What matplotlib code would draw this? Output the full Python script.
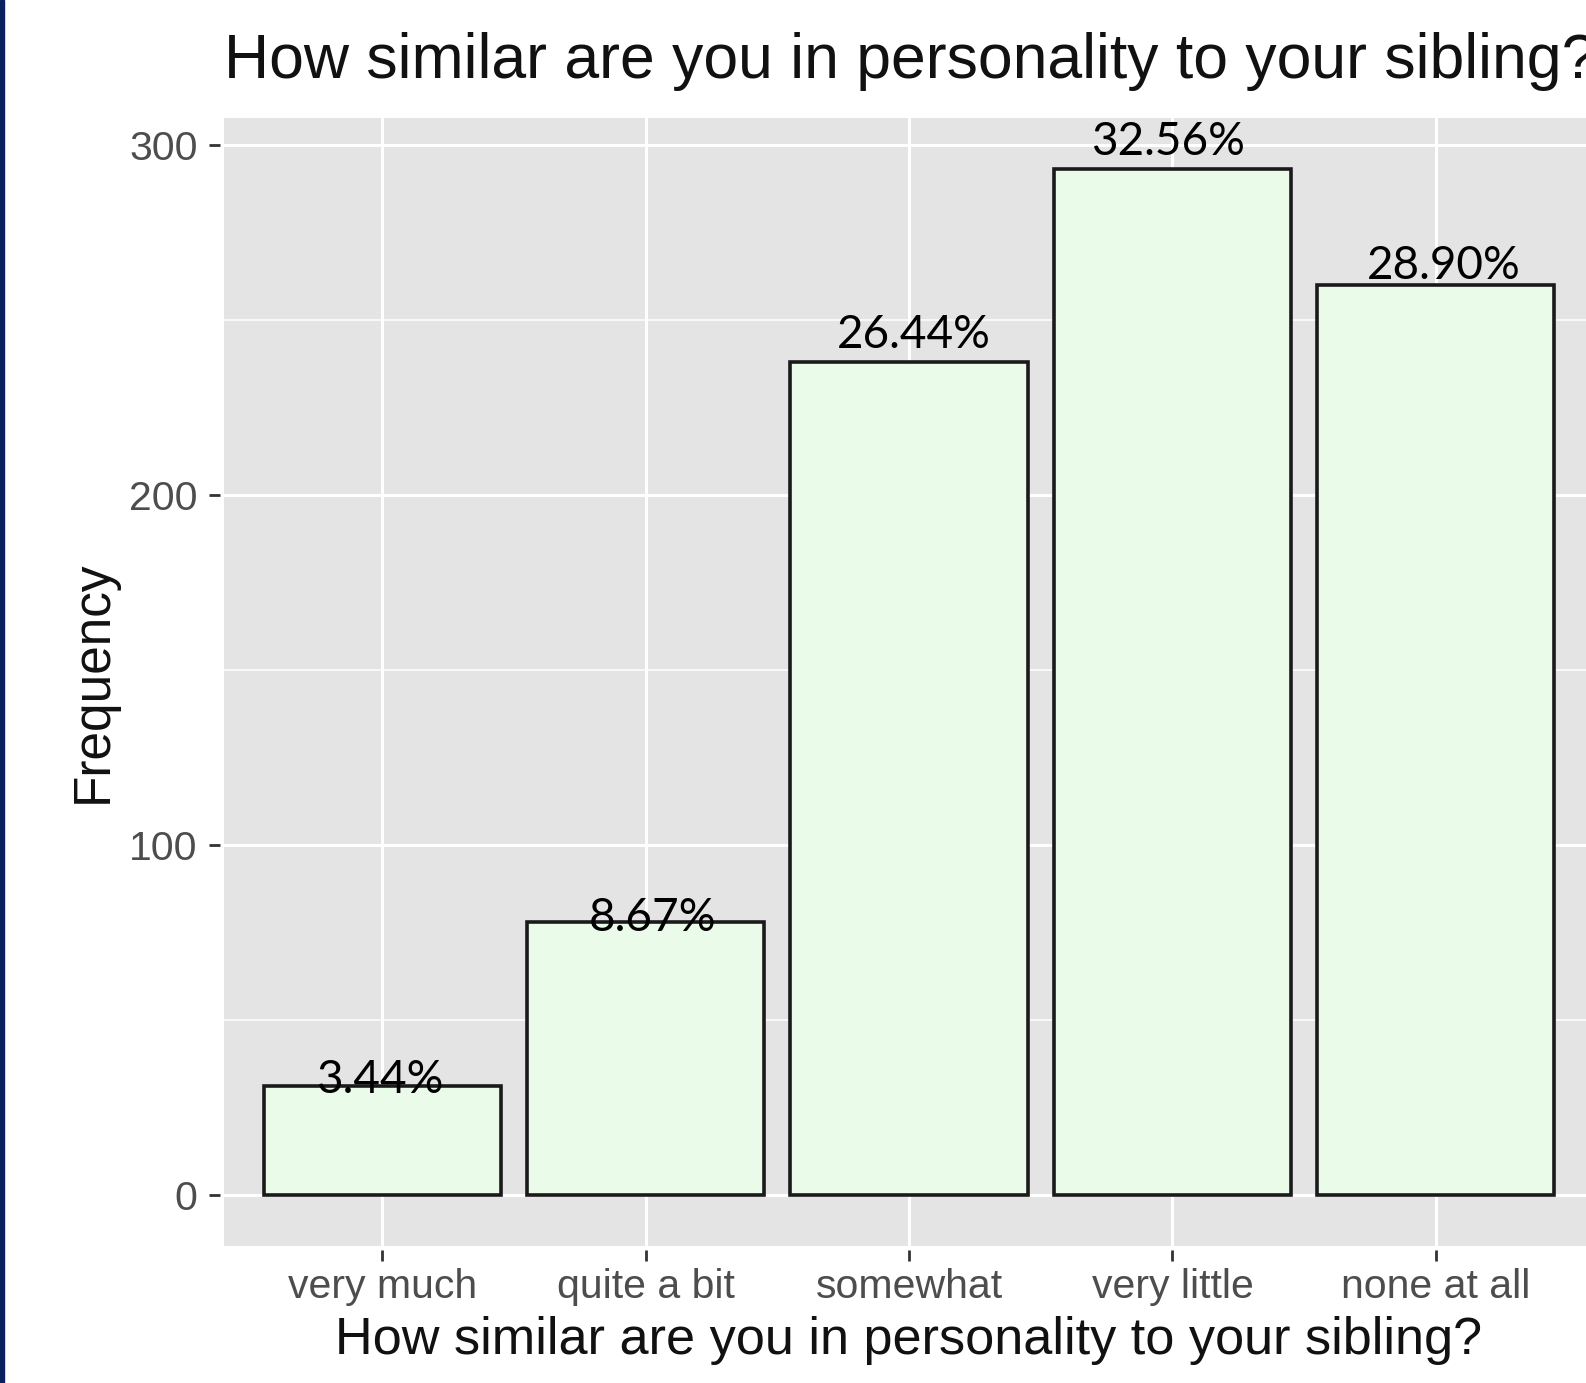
import matplotlib
matplotlib.use("Agg")
import matplotlib.pyplot as plt
from matplotlib.patches import Rectangle

# survey answers and counts
categories = ["very much", "quite a bit", "somewhat", "very little", "none at all"]
counts = [31, 78, 238, 293, 260]
pct_labels = ["3.44%", "8.67%", "26.44%", "32.56%", "28.90%"]
y_ticks = [0, 100, 200, 300]
y_minor = [50, 150, 250]

# hand placed label nudges (points) - the labels in the source were pasted on by hand
label_dx = [-2, 5, 3.6, -3, 5.8]
label_dy = [-5, -6.5, 10, 10, 4.3]

question = "How similar are you in personality to your sibling?"

plt.rcParams['font.family'] = ['Liberation Sans', 'DejaVu Sans']

fig = plt.figure(figsize=(15.86, 13.83), dpi=100)
ax = fig.add_axes([224 / 1586, 0.0991, 1370 / 1586, 0.8156])

# navy strip on the left edge of the slide
fig.patches.append(Rectangle((0, 0), 4 / 1586, 1, transform=fig.transFigure,
                             color="#0a2160", zorder=10))

ax.set_facecolor("#e4e4e4")
for s in ax.spines.values():
    s.set_visible(False)

pos = list(range(1, len(categories) + 1))
bars = ax.bar(pos, counts, width=0.9, color="#eafbea", edgecolor="#1a1a1a",
              linewidth=2.6, zorder=3)

for i, b in enumerate(bars):
    ax.annotate(pct_labels[i], (b.get_x() + b.get_width() / 2, b.get_height()),
                xytext=(label_dx[i], label_dy[i]), textcoords="offset points",
                ha="center", va="baseline", fontsize=33, family="Lato",
                color="black", zorder=5)

top = max(counts)
ax.set_xlim(0.4, len(categories) + 0.6)
ax.set_ylim(-0.05 * top, 1.05 * top)

ax.set_yticks(y_ticks)
ax.set_yticks(y_minor, minor=True)
ax.set_xticks(pos)
ax.set_xticklabels(categories)

ax.grid(True, which="major", color="white", linewidth=2.2, zorder=0)
ax.grid(True, which="minor", axis="y", color="white", linewidth=1.1, zorder=0)
ax.set_axisbelow(True)

ax.tick_params(axis="both", which="major", length=8, width=2, color="#333333",
               labelcolor="#4d4d4d", labelsize=29.5)
ax.tick_params(axis="y", which="major", pad=8)
ax.tick_params(axis="x", which="major", pad=5)
ax.tick_params(which="minor", length=0)
ax.spines['left'].set_position(('outward', 3))
ax.spines['bottom'].set_position(('outward', 3))

ax.set_xlabel(question, fontsize=37.6, color="#111111", labelpad=7)
ax.set_ylabel("Frequency", fontsize=37, color="#111111", labelpad=8)
ax.set_title(question, loc="left", fontsize=45, color="#111111", pad=29)

fig.savefig("out.png", dpi=100)
